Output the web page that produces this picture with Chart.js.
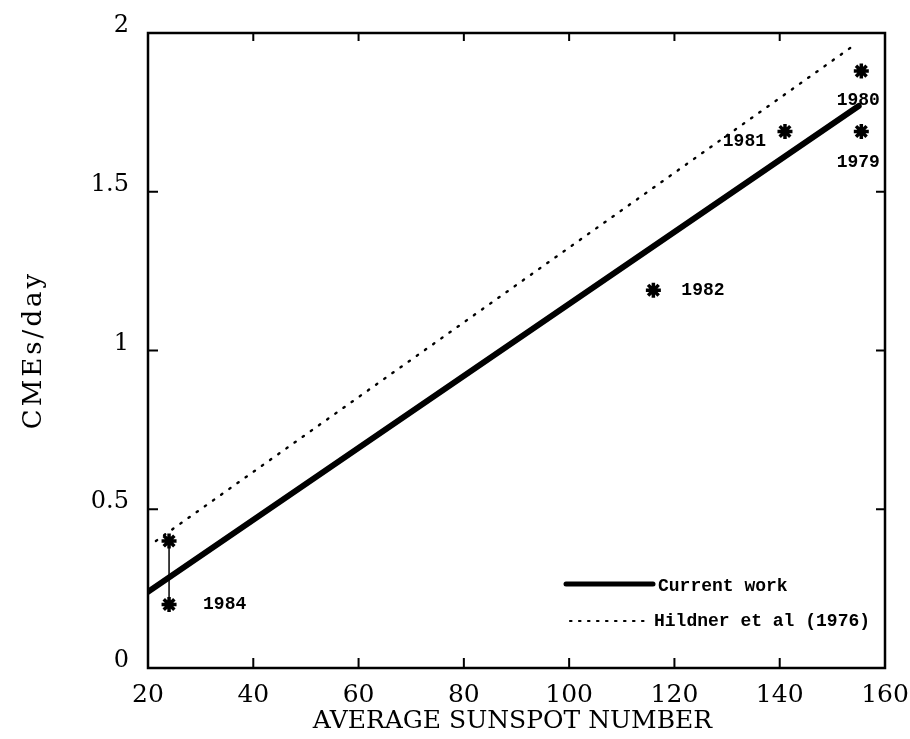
<!DOCTYPE html>
<html><head><meta charset="utf-8">
<script src="https://cdn.jsdelivr.net/npm/chart.js@4/dist/chart.umd.min.js"></script>
<style>html,body{margin:0;padding:0;background:#fff}#wrap{width:910px;height:739px}</style>
</head><body><div id="wrap"><canvas id="c" width="910" height="739"></canvas></div>
<script>
// ---- data ----
const xAxisTitle = 'AVERAGE SUNSPOT NUMBER';
const yAxisTitle = 'CMEs/day';
const xTickValues = [20, 40, 60, 80, 100, 120, 140, 160];
const yTickValues = [0, 0.5, 1, 1.5, 2];
const yTickLabels = ['0', '0.5', '1', '1.5', '2'];
const seriesNames = ['Current work', 'Hildner et al (1976)'];
const currentFitX = [20, 155];
const currentFitY = [0.24, 1.77];
const hildnerFitX = [21.5, 154];
const hildnerFitY = [0.40, 1.96];
const obsYears = ['1984', '1984', '1982', '1981', '1980', '1979'];
const obsSunspot = [24, 24, 116, 141, 155.5, 155.5];
const obsCmeRate = [0.40, 0.20, 1.19, 1.69, 1.88, 1.69];
const errorBarX = [24, 24];
const errorBarY = [0.20, 0.40];

const pts = (xs, ys) => xs.map((x, i) => ({x: x, y: ys[i]}));
const MONO = 'bold 18px "Liberation Mono"';

const framePlugin = {
  id: 'frame',
  afterDraw(chart) {
    const {ctx, chartArea: a, scales: {x, y}} = chart;
    ctx.save();
    ctx.strokeStyle = '#000';
    ctx.lineWidth = 2.5;
    ctx.strokeRect(a.left, a.top, a.right - a.left, a.bottom - a.top);
    ctx.lineWidth = 2;
    ctx.beginPath();
    xTickValues.slice(1, -1).forEach(v => {
      const px = x.getPixelForValue(v);
      ctx.moveTo(px, a.bottom); ctx.lineTo(px, a.bottom - 10);
      ctx.moveTo(px, a.top); ctx.lineTo(px, a.top + 8);
    });
    yTickValues.slice(1, -1).forEach(v => {
      const py = y.getPixelForValue(v);
      ctx.moveTo(a.left, py); ctx.lineTo(a.left + 10, py);
      ctx.moveTo(a.right, py); ctx.lineTo(a.right - 9, py);
    });
    ctx.stroke();
    ctx.restore();
  }
};

const annotPlugin = {
  id: 'annot',
  afterDraw(chart, args, opts) {
    const {ctx, chartArea: a, scales: {x, y}} = chart;
    ctx.save();
    ctx.fillStyle = '#000';
    // year labels
    ctx.font = MONO;
    ctx.textBaseline = 'middle';
    opts.placements.forEach((p, i) => {
      if (!p) return;
      const px = x.getPixelForValue(obsSunspot[i]);
      const py = y.getPixelForValue(obsCmeRate[i]);
      ctx.textAlign = p.align;
      ctx.fillText(obsYears[i], px + p.dx, py + p.dy);
    });
    // legend
    const lx0 = a.right - 319, lx1 = a.right - 232;
    const ly1 = a.bottom - 84, ly2 = a.bottom - 47;
    ctx.strokeStyle = '#000';
    ctx.lineCap = 'round';
    ctx.lineWidth = 5;
    ctx.beginPath(); ctx.moveTo(lx0, ly1); ctx.lineTo(lx1, ly1); ctx.stroke();
    ctx.lineWidth = 2.2;
    ctx.setLineDash([1.5, 7.5]);
    ctx.beginPath(); ctx.moveTo(lx0 + 4, ly2); ctx.lineTo(lx1 - 2, ly2); ctx.stroke();
    ctx.setLineDash([]);
    ctx.textAlign = 'left';
    ctx.fillText(seriesNames[0], lx1 + 5, ly1 + 2);
    ctx.fillText(seriesNames[1], lx1 + 1, ly2);
    // axis titles
    ctx.font = '25px "DejaVu Serif"';
    ctx.textAlign = 'center';
    ctx.fillText(xAxisTitle, (a.left + a.right) / 2 - 4, 721);
    ctx.save();
    ctx.translate(34, 350);
    ctx.rotate(-Math.PI / 2);
    ctx.font = '26px "DejaVu Serif"';
    ctx.letterSpacing = '3px';
    ctx.fillText(yAxisTitle, 0, 0);
    ctx.restore();
    ctx.restore();
  }
};

new Chart(document.getElementById('c'), {
  type: 'scatter',
  data: {
    datasets: [
      {label: seriesNames[0], data: pts(currentFitX, currentFitY), showLine: true,
       borderColor: '#000', borderWidth: 6, borderCapStyle: 'round', pointRadius: 0},
      {label: seriesNames[1], data: pts(hildnerFitX, hildnerFitY), showLine: true,
       borderColor: '#000', borderWidth: 2.4, borderDash: [1.5, 8.5], borderCapStyle: 'round', pointRadius: 0},
      {label: '1984 range', data: pts(errorBarX, errorBarY), showLine: true,
       borderColor: '#000', borderWidth: 1.5, pointRadius: 0},
      {label: 'Observed', data: pts(obsSunspot, obsCmeRate), showLine: false,
       pointStyle: 'star', pointRadius: 7.5, pointBorderWidth: 3.5,
       borderColor: '#000', backgroundColor: '#000'}
    ]
  },
  options: {
    responsive: false,
    animation: false,
    devicePixelRatio: 1,
    layout: {padding: {top: 33, right: 25, left: 0, bottom: 0}},
    plugins: {
      legend: {display: false},
      tooltip: {enabled: false},
      annot: {placements: [
        null,
        {dx: 34, dy: 0, align: 'left'},
        {dx: 28, dy: 0, align: 'left'},
        {dx: -19, dy: 10, align: 'right'},
        {dx: -3, dy: 29, align: 'center'},
        {dx: -3, dy: 31, align: 'center'}
      ]}
    },
    scales: {
      x: {
        type: 'linear', min: 20, max: 160,
        afterBuildTicks: s => { s.ticks = xTickValues.map(v => ({value: v})); },
        afterFit: s => { s.height = 71; s.paddingLeft = 0; s.paddingRight = 0; },
        grid: {display: false}, border: {display: false},
        ticks: {color: '#000', font: {family: 'DejaVu Serif', size: 25}, padding: 4, maxRotation: 0, autoSkip: false}
      },
      y: {
        type: 'linear', min: 0, max: 2,
        afterBuildTicks: s => { s.ticks = yTickValues.map(v => ({value: v})); },
        afterFit: s => { s.width = 148; s.paddingTop = 0; s.paddingBottom = 0; },
        grid: {display: false}, border: {display: false},
        ticks: {color: '#000', font: {family: 'DejaVu Serif', size: 24}, padding: 11, labelOffset: -7, autoSkip: false,
          callback: (v, i) => yTickLabels[i]}
      }
    }
  },
  plugins: [framePlugin, annotPlugin]
});
</script>
</body></html>
